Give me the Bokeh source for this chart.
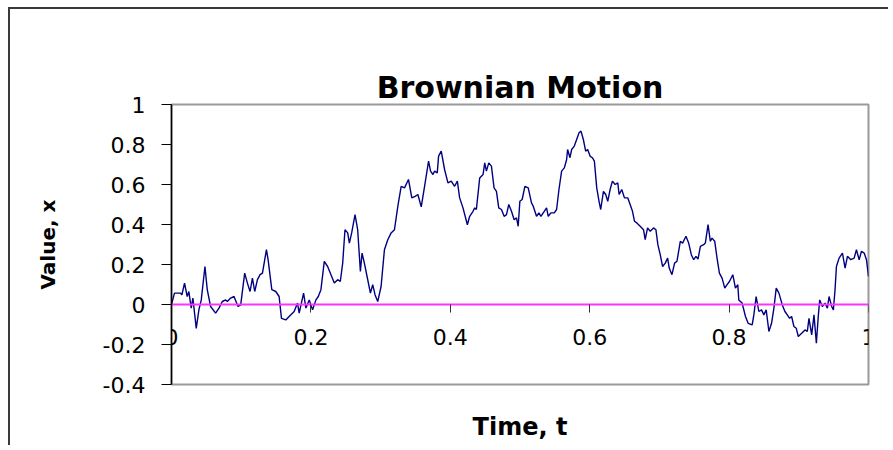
from bokeh.plotting import figure
from bokeh.models import Range1d, FixedTicker, LinearAxis, Title
from bokeh.embed import file_html
from bokeh.resources import INLINE

# ---- data ----
t = [0.0, 0.0043, 0.013, 0.0149, 0.0187, 0.0225, 0.0249, 0.0283, 0.0307, 0.0355,
     0.0393, 0.0427, 0.048, 0.0513, 0.0561, 0.0633, 0.0681, 0.0729, 0.0777, 0.0801,
     0.0849, 0.0897, 0.0954, 0.0993, 0.105, 0.1089, 0.1127, 0.1161, 0.1194, 0.1233,
     0.1271, 0.1305, 0.1362, 0.1386, 0.1439, 0.1496, 0.1544, 0.1578, 0.164, 0.1688,
     0.176, 0.1808, 0.1832, 0.1895, 0.1928, 0.1976, 0.2024, 0.2072, 0.2106, 0.2144,
     0.2192, 0.224, 0.2336, 0.2384, 0.2422, 0.2456, 0.2489, 0.2528, 0.2552, 0.2585,
     0.2633, 0.2671, 0.271, 0.2734, 0.2767, 0.2806, 0.2854, 0.2887, 0.2921, 0.2959,
     0.3007, 0.3055, 0.3103, 0.3151, 0.3199, 0.3247, 0.3295, 0.3343, 0.34, 0.3448,
     0.3496, 0.3535, 0.3583, 0.3631, 0.3688, 0.3717, 0.3751, 0.3775, 0.3813, 0.3832,
     0.387, 0.3918, 0.3966, 0.4014, 0.4062, 0.4101, 0.4134, 0.4182, 0.4245, 0.4278,
     0.4326, 0.435, 0.4374, 0.4422, 0.447, 0.4494, 0.4518, 0.4552, 0.459, 0.4628,
     0.4662, 0.4695, 0.4734, 0.4772, 0.4806, 0.4839, 0.4878, 0.4916, 0.495, 0.4974,
     0.4998, 0.5031, 0.507, 0.5118, 0.5165, 0.519, 0.5237, 0.5271, 0.53, 0.5348,
     0.5381, 0.5405, 0.5444, 0.5492, 0.5525, 0.5559, 0.5597, 0.5636, 0.5669, 0.5683,
     0.5717, 0.5741, 0.5779, 0.5813, 0.5847, 0.5875, 0.5909, 0.5942, 0.5971, 0.6005,
     0.6038, 0.6067, 0.6101, 0.6134, 0.6158, 0.6197, 0.623, 0.6259, 0.6293, 0.6326,
     0.6365, 0.6403, 0.6422, 0.646, 0.6499, 0.6547, 0.658, 0.6614, 0.6643, 0.6676,
     0.6724, 0.6772, 0.6796, 0.683, 0.6868, 0.6916, 0.695, 0.6978, 0.7012, 0.7046,
     0.7084, 0.7118, 0.7141, 0.718, 0.7218, 0.7252, 0.73, 0.7333, 0.7381, 0.742,
     0.7458, 0.7492, 0.7525, 0.7554, 0.7588, 0.7635, 0.7659, 0.7698, 0.7731, 0.7755,
     0.7794, 0.7827, 0.7861, 0.7899, 0.7938, 0.7971, 0.8005, 0.8053, 0.8091, 0.8125,
     0.8139, 0.8187, 0.8235, 0.8273, 0.8331, 0.8355, 0.8388, 0.8427, 0.8465, 0.8499,
     0.8532, 0.8571, 0.8609, 0.8643, 0.8676, 0.8715, 0.8763, 0.8801, 0.8835, 0.8868,
     0.8897, 0.893, 0.8964, 0.8993, 0.9041, 0.9089, 0.9122, 0.9146, 0.9185, 0.9218,
     0.9252, 0.9281, 0.93, 0.9338, 0.9377, 0.941, 0.9434, 0.9472, 0.9496, 0.952,
     0.954, 0.9578, 0.9626, 0.9664, 0.9698, 0.9746, 0.9794, 0.9827, 0.9866, 0.9899,
     0.9938, 0.9971, 1.0]

x = [0.0, 0.057, 0.057, 0.048, 0.107, 0.04, 0.065, -0.018, 0.032, -0.119,
     -0.027, 0.023, 0.19, 0.074, -0.01, -0.043, -0.018, 0.015, 0.023, 0.015,
     0.032, 0.04, -0.01, -0.002, 0.157, 0.107, 0.065, 0.132, 0.065, 0.124,
     0.149, 0.157, 0.274, 0.224, 0.074, 0.065, 0.04, -0.069, -0.077, -0.06,
     -0.035, 0.007, -0.043, 0.057, -0.018, 0.023, -0.027, 0.023, 0.04, 0.074,
     0.216, 0.19, 0.107, 0.124, 0.115, 0.207, 0.374, 0.358, 0.307, 0.358,
     0.449, 0.374, 0.165, 0.257, 0.207, 0.14, 0.057, 0.099, 0.048, 0.015,
     0.09, 0.274, 0.324, 0.358, 0.374, 0.491, 0.591, 0.583, 0.625, 0.533,
     0.541, 0.55, 0.488, 0.591, 0.717, 0.667, 0.65, 0.667, 0.658, 0.742,
     0.767, 0.675, 0.608, 0.617, 0.591, 0.617, 0.533, 0.483, 0.399, 0.441,
     0.466, 0.483, 0.475, 0.633, 0.65, 0.708, 0.667, 0.708, 0.692, 0.583,
     0.566, 0.483, 0.475, 0.441, 0.449, 0.5, 0.466, 0.424, 0.433, 0.391,
     0.516, 0.525, 0.591, 0.583, 0.508, 0.491, 0.441, 0.458, 0.441, 0.466,
     0.483, 0.441, 0.458, 0.458, 0.475, 0.575, 0.667, 0.683, 0.725, 0.775,
     0.734, 0.775, 0.792, 0.825, 0.859, 0.867, 0.825, 0.767, 0.775, 0.742,
     0.734, 0.717, 0.583, 0.516, 0.475, 0.566, 0.55, 0.516, 0.575, 0.617,
     0.6, 0.608, 0.55, 0.575, 0.533, 0.533, 0.5, 0.466, 0.416, 0.408,
     0.391, 0.374, 0.324, 0.383, 0.366, 0.383, 0.374, 0.299, 0.249, 0.19,
     0.207, 0.232, 0.182, 0.149, 0.207, 0.216, 0.316, 0.307, 0.341, 0.307,
     0.249, 0.224, 0.241, 0.227, 0.291, 0.299, 0.307, 0.399, 0.316, 0.332,
     0.316, 0.232, 0.157, 0.132, 0.082, 0.099, 0.115, 0.149, 0.082, 0.099,
     0.023, 0.007, -0.06, -0.094, -0.102, -0.052, 0.04, -0.035, -0.027, -0.052,
     -0.027, -0.135, -0.094, -0.018, 0.082, 0.057, -0.002, -0.035, -0.052, -0.069,
     -0.06, -0.11, -0.119, -0.16, -0.144, -0.127, -0.135, -0.069, -0.152, -0.052,
     -0.194, -0.052, 0.023, -0.01, 0.007, -0.018, 0.04, -0.01, -0.027, 0.074,
     0.19, 0.232, 0.257, 0.182, 0.241, 0.224, 0.232, 0.274, 0.224, 0.266,
     0.257, 0.224, 0.14]

x_ticks = [0, 0.2, 0.4, 0.6, 0.8, 1]
x_tick_labels = ["0", "0.2", "0.4", "0.6", "0.8", "1"]
y_ticks = [-0.4, -0.2, 0, 0.2, 0.4, 0.6, 0.8, 1]
y_tick_labels = ["-0.4", "-0.2", "0", "0.2", "0.4", "0.6", "0.8", "1"]
chart_title = "Brownian Motion"

TICK_FONT = "DejaVu Sans"

p = figure(width=880, height=438, output_backend="svg", toolbar_location=None,
           x_range=Range1d(0, 1), y_range=Range1d(-0.4, 1),
           min_border_left=161, min_border_right=22, min_border_top=95,
           min_border_bottom=63, title=None,
           styles={"border-left": "2px solid #3a3a3a", "border-top": "2px solid #3a3a3a",
                   "margin-left": "8px", "margin-top": "7px"})

# keep direct references to the default axes before adding more
xa = p.below[0]
ya = p.left[0]

p.background_fill_color = "white"
p.border_fill_color = "white"
p.outline_line_color = "#9a9a9a"
p.outline_line_width = 2
p.grid.visible = False

# x axis crossing at value 0 (Excel style)
xa.fixed_location = 0
xa.ticker = FixedTicker(ticks=x_ticks)
xa.major_label_overrides = {tk: lb for tk, lb in zip(x_ticks, x_tick_labels)}
xa.axis_line_color = "#ff33ff"
xa.axis_line_width = 2
xa.major_tick_line_color = "#333333"
xa.major_tick_out = 8
xa.major_tick_in = 0
xa.minor_tick_line_color = None
xa.major_label_text_font = TICK_FONT
xa.major_label_text_font_size = "22px"
xa.major_label_text_color = "black"
xa.major_label_standoff = 16

ya.ticker = FixedTicker(ticks=y_ticks)
ya.major_label_overrides = {tk: lb for tk, lb in zip(y_ticks, y_tick_labels)}
ya.axis_line_color = "black"
ya.axis_line_width = 1.5
ya.major_tick_line_color = "black"
ya.major_tick_out = 10
ya.major_tick_in = 0
ya.minor_tick_line_color = None
ya.major_label_text_font = TICK_FONT
ya.major_label_text_font_size = "22px"
ya.major_label_text_color = "black"
ya.major_label_standoff = 16
ya.axis_label = "Value, x"
ya.axis_label_text_font = "DejaVu Sans"
ya.axis_label_text_font_style = "bold"
ya.axis_label_text_font_size = "20px"
ya.axis_label_text_color = "black"
ya.axis_label_standoff = 40

# separate axis only carrying the "Time, t" title at the bottom
xt = LinearAxis(ticker=FixedTicker(ticks=[]), axis_line_color=None,
                major_tick_line_color=None, minor_tick_line_color=None,
                axis_label="Time, t", axis_label_standoff=28,
                axis_label_text_font="DejaVu Sans", axis_label_text_font_style="bold",
                axis_label_text_font_size="24px", axis_label_text_color="black")
p.add_layout(xt, "below")

# empty spacer between the plot area and the title (no ticks, no line)
spacer = LinearAxis(ticker=FixedTicker(ticks=[]), axis_line_color=None,
                    major_tick_line_color=None, minor_tick_line_color=None,
                    major_tick_out=44, major_tick_in=0, minor_tick_out=0, minor_tick_in=0)
p.add_layout(spacer, "above")

p.add_layout(Title(text=chart_title, align="center", standoff=0,
                   text_font="DejaVu Sans", text_font_style="bold",
                   text_font_size="30px", text_color="black"), "above")

p.line(t, x, line_color="#000080", line_width=1.4)

open("out.html", "w").write(file_html(p, INLINE))
